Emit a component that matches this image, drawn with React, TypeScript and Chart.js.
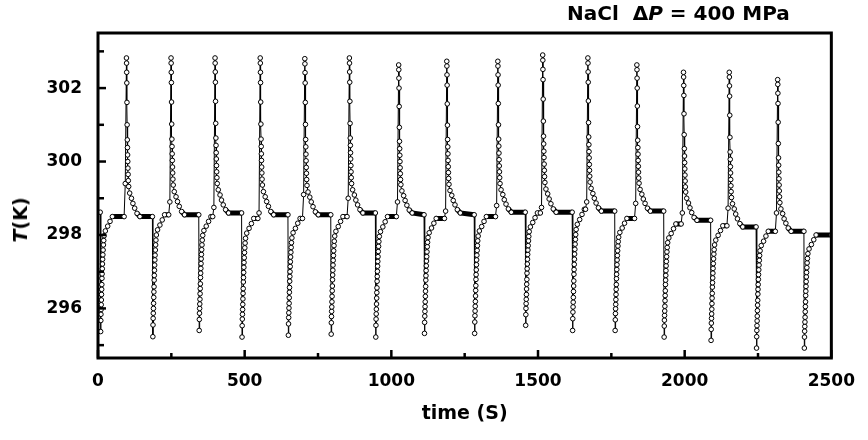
import React, { useEffect, useRef } from "react";
import { Chart, registerables } from "chart.js";

Chart.register(...registerables);

const FONT = "'DejaVu Sans', 'Liberation Sans', sans-serif";

const X_TICKS = [0, 500, 1000, 1500, 2000, 2500];
const X_MINOR_TICKS = [250, 750, 1250, 1750, 2250];
const Y_TICKS = [296, 298, 300, 302];
const Y_MINOR_TICKS = [295, 297, 299, 301, 303];

// times (s) of the pressure release (cold spikes) and pressure application (hot spikes)
const DOWN_TIMES = [9, 187, 345, 491, 649, 795, 947, 1113, 1284, 1458, 1618, 1763, 1930, 2090, 2245, 2408];
const UP_TIMES = [97, 249, 399, 553, 705, 857, 1025, 1189, 1363, 1516, 1670, 1837, 1996, 2152, 2317];

// sample times relative to each event (s)
const DOWN_OFFSETS = [-1.5, 0, 0.5, 1, 1.5, 2, 2.5, 3, 3.5, 4, 4.5, 5, 5.6, 6.2, 6.8, 7.6, 8.5, 9.5, 10.5, 12, 16, 24, 32, 40];
const UP_OFFSETS = [-8, -4, 0, 0.4, 0.8, 1.2, 1.7, 2.3, 2.9, 3.4, 3.9, 4.4, 5.0, 5.6, 6.3, 7.5, 11, 17, 22, 28, 36, 46];

// T (K) read for each cold event
const DOWN_VALUES = [
  [298.62, 295.37, 295.67, 295.84, 295.97, 296.1, 296.23, 296.38, 296.52, 296.65, 296.82, 296.94, 297.08, 297.21, 297.34, 297.46, 297.59, 297.73, 297.85, 297.98, 298.11, 298.24, 298.37, 298.5],
  [298.5, 295.23, 295.55, 295.73, 295.87, 296.0, 296.14, 296.3, 296.45, 296.59, 296.77, 296.9, 297.04, 297.18, 297.32, 297.45, 297.59, 297.73, 297.86, 298.0, 298.14, 298.27, 298.41, 298.55],
  [298.55, 295.4, 295.7, 295.87, 296.0, 296.12, 296.25, 296.4, 296.54, 296.67, 296.84, 296.96, 297.09, 297.22, 297.35, 297.47, 297.6, 297.73, 297.86, 297.99, 298.12, 298.24, 298.37, 298.5],
  [298.6, 295.22, 295.53, 295.71, 295.84, 295.97, 296.11, 296.26, 296.41, 296.54, 296.72, 296.84, 296.98, 297.12, 297.25, 297.38, 297.52, 297.65, 297.78, 297.91, 298.05, 298.18, 298.31, 298.45],
  [298.55, 295.27, 295.58, 295.75, 295.88, 296.01, 296.14, 296.29, 296.44, 296.57, 296.74, 296.87, 297.0, 297.14, 297.27, 297.4, 297.53, 297.66, 297.79, 297.92, 298.06, 298.18, 298.32, 298.45],
  [298.55, 295.3, 295.61, 295.78, 295.92, 296.04, 296.18, 296.33, 296.48, 296.61, 296.78, 296.91, 297.04, 297.18, 297.31, 297.44, 297.57, 297.71, 297.83, 297.97, 298.1, 298.23, 298.37, 298.5],
  [298.6, 295.22, 295.54, 295.71, 295.85, 295.98, 296.12, 296.28, 296.43, 296.56, 296.74, 296.87, 297.01, 297.15, 297.28, 297.41, 297.55, 297.69, 297.82, 297.96, 298.09, 298.22, 298.36, 298.5],
  [298.55, 295.32, 295.62, 295.79, 295.92, 296.05, 296.18, 296.33, 296.47, 296.6, 296.77, 296.89, 297.03, 297.16, 297.29, 297.41, 297.54, 297.68, 297.8, 297.93, 298.06, 298.19, 298.32, 298.45],
  [298.55, 295.32, 295.63, 295.8, 295.93, 296.06, 296.19, 296.34, 296.49, 296.62, 296.79, 296.92, 297.05, 297.19, 297.32, 297.45, 297.58, 297.71, 297.84, 297.97, 298.11, 298.23, 298.37, 298.5],
  [298.62, 295.54, 295.83, 296.0, 296.13, 296.25, 296.38, 296.53, 296.66, 296.79, 296.96, 297.08, 297.21, 297.34, 297.47, 297.59, 297.71, 297.84, 297.96, 298.09, 298.22, 298.34, 298.47, 298.6],
  [298.62, 295.4, 295.72, 295.9, 296.04, 296.17, 296.3, 296.46, 296.61, 296.75, 296.93, 297.06, 297.2, 297.34, 297.48, 297.61, 297.75, 297.88, 298.01, 298.15, 298.29, 298.42, 298.56, 298.7],
  [298.65, 295.4, 295.69, 295.86, 295.99, 296.11, 296.24, 296.38, 296.52, 296.65, 296.81, 296.93, 297.06, 297.19, 297.32, 297.44, 297.57, 297.7, 297.82, 297.94, 298.07, 298.19, 298.32, 298.45],
  [298.65, 295.22, 295.52, 295.68, 295.81, 295.93, 296.06, 296.21, 296.35, 296.48, 296.65, 296.77, 296.9, 297.03, 297.16, 297.28, 297.41, 297.54, 297.66, 297.79, 297.92, 298.04, 298.17, 298.3],
  [298.4, 295.13, 295.43, 295.6, 295.73, 295.85, 295.98, 296.13, 296.28, 296.41, 296.58, 296.7, 296.83, 296.96, 297.09, 297.22, 297.35, 297.48, 297.6, 297.73, 297.86, 297.99, 298.12, 298.25],
  [298.22, 294.92, 295.23, 295.4, 295.53, 295.66, 295.79, 295.94, 296.09, 296.22, 296.39, 296.52, 296.65, 296.79, 296.92, 297.05, 297.18, 297.31, 297.44, 297.57, 297.71, 297.83, 297.97, 298.1],
  [298.1, 294.92, 295.22, 295.38, 295.51, 295.63, 295.76, 295.91, 296.05, 296.18, 296.35, 296.47, 296.6, 296.73, 296.86, 296.98, 297.11, 297.24, 297.36, 297.49, 297.62, 297.74, 297.87, 298.0],
];

// T (K) read for each hot event
const UP_VALUES = [
  [298.5, 299.4, 302.82, 302.68, 302.43, 302.14, 301.61, 301.0, 300.59, 300.38, 300.18, 300.0, 299.82, 299.65, 299.48, 299.32, 299.14, 299.0, 298.86, 298.73, 298.59, 298.5],
  [298.55, 298.9, 302.82, 302.68, 302.43, 302.15, 301.62, 301.02, 300.61, 300.41, 300.21, 300.03, 299.85, 299.69, 299.52, 299.36, 299.18, 299.04, 298.91, 298.78, 298.64, 298.55],
  [298.5, 298.75, 302.82, 302.68, 302.44, 302.16, 301.64, 301.04, 300.64, 300.44, 300.24, 300.07, 299.89, 299.72, 299.56, 299.4, 299.23, 299.09, 298.95, 298.82, 298.69, 298.6],
  [298.45, 298.6, 302.82, 302.68, 302.43, 302.15, 301.62, 301.02, 300.61, 300.41, 300.21, 300.03, 299.85, 299.69, 299.52, 299.36, 299.18, 299.04, 298.91, 298.78, 298.64, 298.55],
  [298.45, 299.1, 302.8, 302.66, 302.42, 302.14, 301.61, 301.01, 300.6, 300.4, 300.2, 300.02, 299.84, 299.68, 299.51, 299.35, 299.17, 299.03, 298.9, 298.77, 298.63, 298.55],
  [298.5, 299.0, 302.82, 302.68, 302.44, 302.16, 301.64, 301.04, 300.64, 300.44, 300.24, 300.07, 299.89, 299.72, 299.56, 299.4, 299.23, 299.09, 298.95, 298.82, 298.69, 298.6],
  [298.5, 298.9, 302.63, 302.5, 302.27, 302.0, 301.5, 300.93, 300.55, 300.35, 300.17, 300.0, 299.83, 299.67, 299.51, 299.37, 299.2, 299.07, 298.94, 298.81, 298.68, 298.6],
  [298.45, 298.65, 302.73, 302.6, 302.36, 302.08, 301.57, 300.99, 300.6, 300.4, 300.21, 300.03, 299.86, 299.7, 299.54, 299.38, 299.21, 299.08, 298.94, 298.82, 298.69, 298.6],
  [298.5, 298.8, 302.73, 302.6, 302.36, 302.08, 301.58, 301.0, 300.61, 300.42, 300.23, 300.05, 299.88, 299.72, 299.56, 299.4, 299.23, 299.1, 298.96, 298.84, 298.71, 298.62],
  [298.6, 298.75, 302.9, 302.76, 302.51, 302.23, 301.7, 301.1, 300.69, 300.48, 300.28, 300.11, 299.93, 299.76, 299.59, 299.43, 299.25, 299.12, 298.98, 298.85, 298.71, 298.62],
  [298.7, 298.9, 302.82, 302.68, 302.44, 302.16, 301.65, 301.06, 300.67, 300.46, 300.27, 300.1, 299.92, 299.76, 299.6, 299.44, 299.27, 299.13, 299.0, 298.87, 298.74, 298.65],
  [298.45, 298.86, 302.63, 302.5, 302.27, 302.0, 301.51, 300.95, 300.58, 300.38, 300.2, 300.03, 299.87, 299.71, 299.55, 299.41, 299.24, 299.11, 298.98, 298.86, 298.73, 298.65],
  [298.3, 298.6, 302.43, 302.3, 302.07, 301.8, 301.3, 300.73, 300.35, 300.15, 299.97, 299.8, 299.63, 299.47, 299.31, 299.17, 299.0, 298.87, 298.74, 298.61, 298.48, 298.4],
  [298.25, 298.73, 302.43, 302.3, 302.06, 301.78, 301.26, 300.66, 300.26, 300.06, 299.86, 299.69, 299.51, 299.34, 299.18, 299.02, 298.85, 298.71, 298.57, 298.44, 298.31, 298.22],
  [298.1, 298.6, 302.23, 302.1, 301.86, 301.58, 301.07, 300.49, 300.1, 299.9, 299.71, 299.53, 299.36, 299.2, 299.04, 298.88, 298.71, 298.58, 298.44, 298.32, 298.19, 298.1],
];

const END_TIME = 2500;
const END_VALUE = 298.0;

function buildPoints() {
  const pts: { x: number; y: number }[] = [];
  DOWN_TIMES.forEach((t0, i) => {
    DOWN_OFFSETS.forEach((dt, j) => pts.push({ x: t0 + dt, y: DOWN_VALUES[i][j] }));
    if (i < UP_TIMES.length) {
      UP_OFFSETS.forEach((dt, j) => pts.push({ x: UP_TIMES[i] + dt, y: UP_VALUES[i][j] }));
    }
  });
  pts.push({ x: END_TIME, y: END_VALUE });
  return pts;
}

const framePlugin = {
  id: "frameTicks",
  afterDraw(chart: any) {
    const { ctx, chartArea: a, scales } = chart;
    const x = scales.x;
    const y = scales.y;
    ctx.save();
    ctx.strokeStyle = "#000";
    ctx.lineWidth = 3;
    ctx.strokeRect(a.left, a.top, a.right - a.left, a.bottom - a.top);
    const seg = (x1: number, y1: number, x2: number, y2: number) => {
      ctx.beginPath();
      ctx.moveTo(x1, y1);
      ctx.lineTo(x2, y2);
      ctx.stroke();
    };
    ctx.lineWidth = 2.5;
    Y_TICKS.forEach((v) => {
      const p = y.getPixelForValue(v);
      seg(a.left, p, a.left + 8, p);
    });
    Y_MINOR_TICKS.forEach((v) => {
      const p = y.getPixelForValue(v);
      seg(a.left, p, a.left + 6, p);
    });
    X_TICKS.forEach((v) => {
      const p = x.getPixelForValue(v);
      seg(p, a.bottom, p, a.bottom - 8);
    });
    X_MINOR_TICKS.forEach((v) => {
      const p = x.getPixelForValue(v);
      seg(p, a.bottom, p, a.bottom - 5);
    });
    ctx.restore();
  },
};

export default function App() {
  const ref = useRef<HTMLCanvasElement>(null);

  useEffect(() => {
    const chart = new Chart(ref.current as HTMLCanvasElement, {
      type: "line",
      data: {
        datasets: [
          {
            data: buildPoints(),
            borderColor: "#000",
            borderWidth: 1,
            pointRadius: 2.3,
            pointBorderWidth: 1,
            pointBackgroundColor: "#fff",
            pointBorderColor: "#000",
            tension: 0,
            segment: {
              borderWidth: (c: any) => {
                const p0 = c.p0.parsed;
                const p1 = c.p1.parsed;
                return p1.x - p0.x > 5 && Math.abs(p1.y - p0.y) < 0.1 ? 5 : 1;
              },
            },
          } as any,
        ],
      },
      options: {
        responsive: false,
        animation: false,
        events: [],
        layout: { padding: { top: 33, right: 30, left: 0, bottom: 0 } },
        plugins: { legend: { display: false }, tooltip: { enabled: false }, title: { display: false } },
        scales: {
          x: {
            type: "linear",
            min: 0,
            max: 2500,
            grid: { display: false, drawTicks: false },
            border: { display: false },
            afterBuildTicks: (s: any) => {
              s.ticks = X_TICKS.map((v) => ({ value: v }));
            },
            afterFit: (s: any) => {
              s.height = 82;
            },
            ticks: {
              padding: 13,
              color: "#000",
              autoSkip: false,
              maxRotation: 0,
              font: { family: FONT, size: 17, weight: "bold" },
              callback: (v: any) => String(v),
            },
            title: {
              display: true,
              text: "time (S)",
              color: "#000",
              font: { family: FONT, size: 19, weight: "bold" },
              padding: { top: 0, bottom: 15 },
            },
          },
          y: {
            type: "linear",
            min: 294.65,
            max: 303.5,
            grid: { display: false, drawTicks: false },
            border: { display: false },
            afterBuildTicks: (s: any) => {
              s.ticks = Y_TICKS.map((v) => ({ value: v }));
            },
            afterFit: (s: any) => {
              s.width = 98;
            },
            ticks: {
              padding: 16,
              color: "#000",
              autoSkip: false,
              font: { family: FONT, size: 17, weight: "bold" },
              callback: (v: any) => String(v),
            },
          },
        },
      } as any,
      plugins: [framePlugin],
    });
    return () => chart.destroy();
  }, []);

  return (
    <div style={{ position: "absolute", left: 0, top: 0, width: 868, height: 440, background: "#fff" }}>
      <canvas ref={ref} width={868} height={440} style={{ position: "absolute", left: 0, top: 0 }} />
      <div
        style={{
          position: "absolute",
          left: 567,
          top: 3,
          font: `bold 20px ${FONT}`,
          lineHeight: "20px",
          whiteSpace: "pre",
          color: "#000",
        }}
      >
        {"NaCl  Δ"}
        <i>P</i>
        {" = 400 MPa"}
      </div>
      <div
        style={{
          position: "absolute",
          left: 20,
          top: 220,
          transform: "translate(-50%, -50%) rotate(-90deg)",
          font: `bold 19px ${FONT}`,
          whiteSpace: "nowrap",
          color: "#000",
        }}
      >
        <i>T</i>
        {"(K)"}
      </div>
    </div>
  );
}
